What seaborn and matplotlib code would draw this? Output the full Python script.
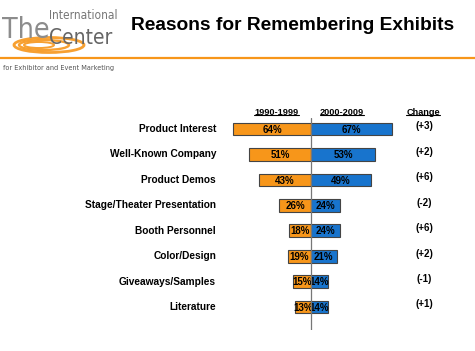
import numpy as np
import matplotlib.pyplot as plt
import matplotlib.patches as mpatches
from matplotlib.lines import Line2D
import seaborn as sns
import pandas as pd

# datos del grafico
categorias = ["Product Interest", "Well-Known Company", "Product Demos",
              "Stage/Theater Presentation", "Booth Personnel", "Color/Design",
              "Giveaways/Samples", "Literature"]
v_1990s = [64, 51, 43, 26, 18, 19, 15, 13]
v_2000s = [67, 53, 49, 24, 24, 21, 14, 14]
cambios = ["(+3)", "(+2)", "(+6)", "(-2)", "(+6)", "(+2)", "(-1)", "(+1)"]
periodos = ["1990-1999", "2000-2009"]

NARANJA = "#F7961A"
AZUL = "#1874CD"
GRIS = "#8C8C8C"

sns.set_theme(style="white")
plt.rcParams['font.family'] = ['Liberation Sans', 'DejaVu Sans']
plt.rcParams['text.color'] = 'black'

W, H = 475, 351
fig = plt.figure(figsize=(W / 100, H / 100), dpi=100)

# ---- cabecera ----
fig.text(131 / W, 1 - 26 / H, "Reasons for Remembering Exhibits", fontsize=13.8,
         fontweight="bold", va="center", ha="left")
fig.add_artist(Line2D([0, 1], [1 - 58 / H, 1 - 58 / H], color=NARANJA, lw=1.6))

# logo
cond = dict(family="DejaVu Sans", fontstretch="condensed")
logo = fig.add_axes([0, 1 - 56 / H, 125 / W, 56 / H])
logo.set_xlim(0, 125)
logo.set_ylim(56, 0)
logo.axis("off")
for cx, w, h, lw in [(49, 70, 15, 2.0), (44, 50, 10, 1.7), (39, 30, 6, 1.4)]:
    logo.add_patch(mpatches.Ellipse((cx, 45), w, h, fill=False,
                                    ec=NARANJA, lw=lw, alpha=0.9))
logo.text(2, 38, "The", fontsize=20.5, color=GRIS, va="baseline", ha="left",
          **cond)
logo.text(49, 19, "International", fontsize=8.6, color="#777777",
          va="baseline", ha="left", **cond)
logo.text(49, 44, "Center", fontsize=15, color="#666666",
          va="baseline", ha="left", **cond)
fig.text(3 / W, 1 - 68 / H, "for Exhibitor and Event Marketing", fontsize=5.2,
         color="#555555", va="center", ha="left", **cond)

# ---- grafico de barras ----
centro_px = 311
escala = 1.215  # px por %
fila0, paso = 129, 25.43
ax_l, ax_r, ax_t, ax_b = 200, 445, 118, 330
ax = fig.add_axes([ax_l / W, 1 - ax_b / H, (ax_r - ax_l) / W, (ax_b - ax_t) / H])

df = pd.DataFrame({
    "categoria": categorias * 2,
    "valor": [-v for v in v_1990s] + v_2000s,
    "periodo": [periodos[0]] * len(categorias) + [periodos[1]] * len(categorias),
})
sns.barplot(data=df, x="valor", y="categoria", hue="periodo", orient="h",
            palette=[NARANJA, AZUL], saturation=1, dodge=False, width=0.5,
            edgecolor="#444444", linewidth=0.8, legend=False, ax=ax)

ax.set_xlim((ax_l - centro_px) / escala, (ax_r - centro_px) / escala)
ax.set_ylim((ax_b - fila0) / paso, (ax_t - fila0) / paso)
ax.axvline(0, color="#777777", lw=0.9, zorder=5)
ax.axis("off")

fs = 7
for i, cat in enumerate(categorias):
    ax.text((216 - centro_px) / escala, i, cat, ha="right", va="center",
            fontsize=7.3, fontweight="bold", clip_on=False)
    ax.text(-v_1990s[i] / 2, i + 0.03, f"{v_1990s[i]}%", ha="center", va="center",
            fontsize=fs, fontweight="bold")
    ax.text(v_2000s[i] / 2, i + 0.03, f"{v_2000s[i]}%", ha="center", va="center",
            fontsize=fs, fontweight="bold")
    ax.text((424 - centro_px) / escala, i - 0.1, cambios[i], ha="center",
            va="center", fontsize=fs, fontweight="bold")

# encabezados subrayados
y_enc = (112 - fila0) / paso
encabezados = [(periodos[0], 276.5), (periodos[1], 342), ("Change", 423)]
textos = []
for txt, xp in encabezados:
    textos.append(ax.text((xp - centro_px) / escala, y_enc, txt, ha="center",
                          va="center", fontsize=6.6, fontweight="bold",
                          clip_on=False))
fig.canvas.draw()
for t in textos:
    bb = t.get_window_extent().transformed(fig.transFigure.inverted())
    fig.add_artist(Line2D([bb.x0, bb.x1], [bb.y0 + 0.004, bb.y0 + 0.004],
                          color="black", lw=0.8))

fig.savefig("out.png", dpi=100)
